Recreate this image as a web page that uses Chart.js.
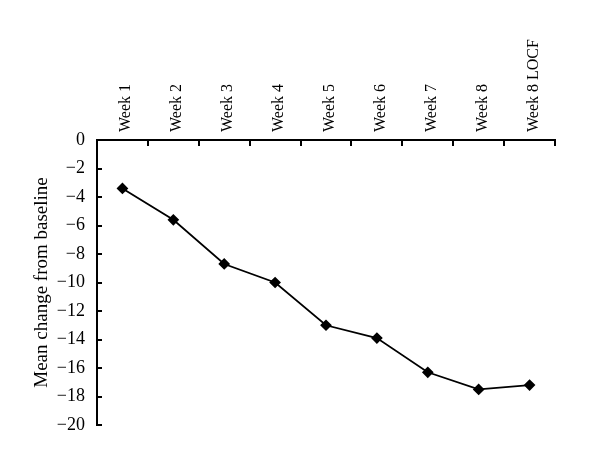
<!DOCTYPE html>
<html>
<head>
    <title>Mean change from baseline</title>
    <style>
        body {
            margin: 0;
            padding: 0;
            background-color: #fff;
        }
        .container {
            width: 600px;
            height: 459px;
        }
    </style>
</head>
<body>
    <div class="container">
        <canvas id="lineChart" width="600" height="459"></canvas>
    </div>

    <script src="https://cdn.jsdelivr.net/npm/chart.js"></script>
    <script>
        const weeks = ['Week 1', 'Week 2', 'Week 3', 'Week 4', 'Week 5', 'Week 6', 'Week 7', 'Week 8', 'Week 8 LOCF'];
        const meanChange = [-3.4, -5.6, -8.7, -10.0, -13.0, -13.9, -16.3, -17.5, -17.2];
        const yTicks = [0, -2, -4, -6, -8, -10, -12, -14, -16, -18, -20];

        const serif = '"Liberation Serif", "DejaVu Serif", serif';

        const ctx = document.getElementById('lineChart').getContext('2d');
        new Chart(ctx, {
            type: 'line',
            data: {
                labels: weeks,
                datasets: [{
                    data: meanChange,
                    borderColor: '#000',
                    backgroundColor: '#000',
                    borderWidth: 1.8,
                    pointStyle: 'rectRot',
                    pointRadius: 4.6,
                    tension: 0
                }]
            },
            options: {
                responsive: false,
                animation: false,
                layout: {
                    padding: { top: 0, right: 45, bottom: 34, left: 0 }
                },
                plugins: {
                    legend: { display: false },
                    tooltip: { enabled: false }
                },
                scales: {
                    x: {
                        position: 'top',
                        offset: true,
                        afterFit: (scale) => { scale.height = 140; },
                        border: { color: '#000', width: 2 },
                        grid: {
                            offset: true,
                            drawOnChartArea: false,
                            drawTicks: true,
                            tickLength: -6,
                            color: '#000',
                            lineWidth: 2
                        },
                        ticks: {
                            color: '#000',
                            font: { family: serif, size: 16 },
                            minRotation: 90,
                            maxRotation: 90,
                            padding: 14,
                            labelOffset: 23,
                            autoSkip: false
                        }
                    },
                    y: {
                        min: -20,
                        max: 0,
                        afterFit: (scale) => { scale.width = 97; },
                        afterBuildTicks: (scale) => {
                            scale.ticks = yTicks.map(v => ({ value: v }));
                        },
                        border: { color: '#000', width: 2 },
                        grid: {
                            drawOnChartArea: false,
                            drawTicks: true,
                            tickLength: -5,
                            color: '#000',
                            lineWidth: 2
                        },
                        ticks: {
                            color: '#000',
                            font: { family: serif, size: 18 },
                            padding: 17,
                            callback: (v) => String(v).replace('-', '\u2212')
                        },
                        title: {
                            display: true,
                            text: 'Mean change from baseline',
                            color: '#000',
                            font: { family: serif, size: 19 },
                            padding: { top: 31, bottom: 0 }
                        }
                    }
                }
            }
        });
    </script>
</body>
</html>
